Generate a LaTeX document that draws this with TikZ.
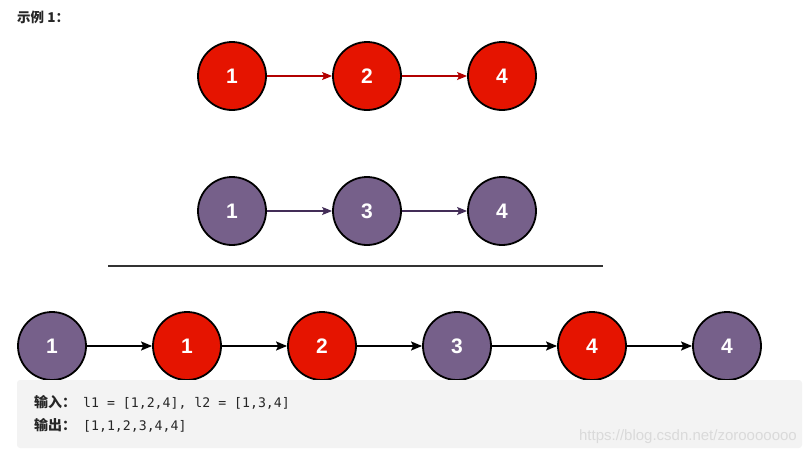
\documentclass[tikz,border=0pt]{standalone}
\usepackage{fontspec}
\setmainfont{Liberation Sans}
\newfontfamily\cjk{Noto Sans CJK SC}
\newfontfamily\monof{DejaVu Sans Mono}
\usetikzlibrary{arrows.meta}
\definecolor{nred}{HTML}{E51400}
\definecolor{npurple}{HTML}{76608A}
\definecolor{ered}{HTML}{B20000}
\definecolor{epurple}{HTML}{432D57}
\definecolor{boxgray}{HTML}{F3F3F3}
\definecolor{wmark}{HTML}{DADADA}
\newcommand{\cjklabel}[1]{{\cjk\fontsize{14}{14}\selectfont\bfseries #1\hspace{7pt}}}
\begin{document}
\begin{tikzpicture}[x=1pt,y=-1pt,
  lnode/.style={circle,draw=black,line width=1.8pt,minimum size=68pt,inner sep=0pt,
    text=white,font=\fontsize{21}{21}\selectfont\bfseries},
  rednode/.style={lnode,fill=nred},
  purnode/.style={lnode,fill=npurple},
  arr/.style={line width=1.3pt,-{Stealth[length=10pt,width=8pt,inset=2pt]}},
  redarr/.style={arr,draw=ered,fill=ered},
  purarr/.style={arr,draw=epurple,fill=epurple},
  blkarr/.style={line width=1.6pt,draw=black,-{Stealth[length=11pt,width=9pt,inset=2pt]}}]
\useasboundingbox (0,0) rectangle (807,456);
\node[anchor=west,inner sep=0pt,font=\cjk\fontsize{13.5}{13.5}\selectfont\bfseries,text=black!85] (title) at (17,17) {示例 1：};
% top row
\node[rednode] (a1) at (232,76) {1};
\node[rednode] (a2) at (367,76) {2};
\node[rednode] (a3) at (502,76) {4};
\draw[redarr] (a1) -- (a2);
\draw[redarr] (a2) -- (a3);
% middle row
\node[purnode] (b1) at (232,211) {1};
\node[purnode] (b2) at (367,211) {3};
\node[purnode] (b3) at (502,211) {4};
\draw[purarr] (b1) -- (b2);
\draw[purarr] (b2) -- (b3);
% separator
\coordinate (s1) at (108,266);
\coordinate (s2) at (603,266);
\draw[line width=2pt,draw=black!80] (s1) -- (s2);
% bottom row
\node[purnode] (c1) at (52,346) {1};
\node[rednode] (c2) at (187,346) {1};
\node[rednode] (c3) at (322,346) {2};
\node[purnode] (c4) at (457,346) {3};
\node[rednode] (c5) at (592,346) {4};
\node[purnode] (c6) at (727,346) {4};
\draw[blkarr] (c1) -- (c2);
\draw[blkarr] (c2) -- (c3);
\draw[blkarr] (c3) -- (c4);
\draw[blkarr] (c4) -- (c5);
\draw[blkarr] (c5) -- (c6);
% box
\fill[boxgray,rounded corners=3pt] (17,380) rectangle (802,448);
\node[anchor=west,inner sep=0pt,text=black!85] (in) at (34,402)
  {\cjklabel{输入：}{\monof\fontsize{13.2}{13.2}\selectfont l1 = [1,2,4], l2 = [1,3,4]}};
\node[anchor=west,inner sep=0pt,text=black!85] (out) at (34,425)
  {\cjklabel{输出：}{\monof\fontsize{13.2}{13.2}\selectfont [1,1,2,3,4,4]}};
\node[anchor=east,inner sep=0pt,text=wmark,font=\fontsize{15}{15}\selectfont] (wm) at (797,437) {https://blog.csdn.net/zorooooooo};
\end{tikzpicture}
\end{document}
